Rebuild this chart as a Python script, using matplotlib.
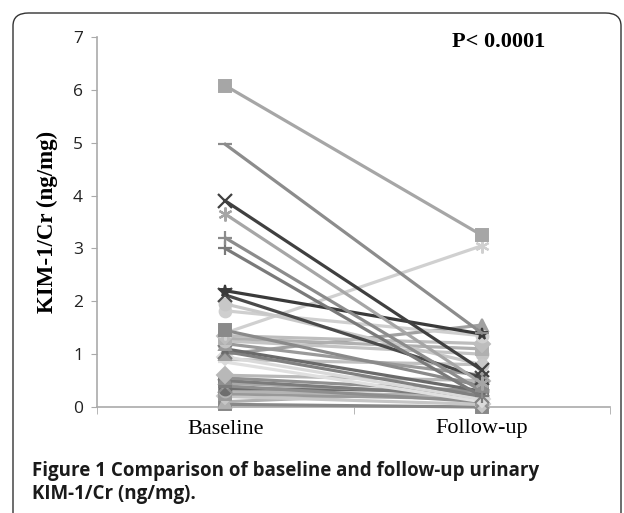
import matplotlib
matplotlib.use("Agg")
import matplotlib.pyplot as plt
from matplotlib.patches import FancyBboxPatch
from matplotlib.ticker import FixedLocator, NullFormatter

# ---------------- data ----------------
categories = ["Baseline", "Follow-up"]
baseline = [6.08, 4.97, 3.90, 3.65, 3.20, 3.00, 2.20, 2.12, 1.95, 1.82,
            1.45, 1.40, 1.35, 1.30, 1.25, 1.20, 1.10, 1.05, 1.00, 0.95,
            0.90, 0.85, 0.60, 0.55, 0.50, 0.45, 0.40, 0.35, 0.30, 0.25,
            0.20, 0.10, 0.05]
followup = [3.25, 1.40, 0.70, 0.45, 0.30, 0.20, 1.38, 0.55, 0.80, 1.35,
            0.40, 3.05, 1.20, 1.10, 1.00, 0.60, 0.30, 0.20, 1.55, 0.15,
            0.80, 0.10, 0.50, 0.30, 0.20, 0.25, 0.10, 0.30, 0.20, 0.15,
            0.05, 0.30, 0.00]
yticks = [0, 1, 2, 3, 4, 5, 6, 7]
p_text = "P< 0.0001"
ylabel = "KIM-1/Cr (ng/mg)"
caption_bold = "Figure 1"
caption_rest = " Comparison of baseline and follow-up urinary"
caption_line2 = "KIM-1/Cr (ng/mg)."

# ---------------- styles ----------------
grays = ["#a6a6a6", "#8c8c8c", "#404040", "#a6a6a6", "#8c8c8c", "#7a7a7a",
         "#3a3a3a", "#4a4a4a", "#c8c8c8", "#cfcfcf", "#8a8a8a", "#d0d0d0",
         "#bdbdbd", "#b0b0b0", "#c4c4c4", "#9a9a9a", "#6a6a6a", "#808080",
         "#a0a0a0", "#dadada", "#c0c0c0", "#e0e0e0", "#b8b8b8", "#909090",
         "#7c7c7c", "#a8a8a8", "#8e8e8e", "#6e6e6e", "#b4b4b4", "#999999",
         "#c6c6c6", "#b0b0b0", "#888888"]
asterisk = (6, 2, 0)
markers = ["s", "_", "x", asterisk, "+", "+", "*", "x", "o", "o",
           "s", asterisk, "D", "s", "o", "^", "*", "x", "^", "D",
           ".", "_", "D", "^", "s", "*", "x", "o", "o", "s",
           "D", "^", "s"]

fig = plt.figure(figsize=(6.24, 5.13), dpi=100)

# rounded frame
frame = FancyBboxPatch((13 / 624, -0.05), (621 - 13) / 624, (513 - 13) / 513 + 0.05,
                       boxstyle="round,pad=0,rounding_size=0.025",
                       transform=fig.transFigure, facecolor="none",
                       edgecolor="#333333", linewidth=1.0, zorder=0)
fig.patches.append(frame)

ax = fig.add_axes([97 / 624, (513 - 407) / 513, (610 - 97) / 624, (407 - 37) / 513])
ax.set_facecolor("none")
ax.set_zorder(2)

xs = [0.5, 1.5]
order = sorted(range(len(baseline)), key=lambda i: -baseline[i])
for i in reversed(order):
    m = markers[i % len(markers)]
    ms = 8.5
    mew = 1.4
    if m in ("x", "+", asterisk, "_"):
        ms = 10
        mew = 1.6
    ax.plot(xs, [baseline[i], followup[i]], color=grays[i % len(grays)],
            linewidth=2.3, marker=m, markersize=ms, markeredgewidth=mew,
            markeredgecolor=grays[i % len(grays)], clip_on=False, zorder=3)

ax.set_xlim(0, 2)
ax.set_ylim(0, 7)
ax.set_yticks(yticks)
ax.set_yticklabels([str(t) for t in yticks], fontfamily="Open Sans", fontsize=12.5,
                   color="#222222")
ax.set_xticks(xs)
ax.set_xticklabels(categories, fontfamily="Liberation Serif", fontsize=16)
ax.xaxis.set_minor_locator(FixedLocator([0, 1, 2]))
ax.xaxis.set_minor_formatter(NullFormatter())
ax.tick_params(axis="x", which="major", length=0, pad=9)
ax.tick_params(axis="x", which="minor", length=5, color="#aaaaaa", direction="out")
ax.tick_params(axis="y", length=4, color="#aaaaaa", pad=6)

for s in ("top", "right"):
    ax.spines[s].set_visible(False)
for s in ("left", "bottom"):
    ax.spines[s].set_color("#aaaaaa")
    ax.spines[s].set_linewidth(1.2)

ax.set_ylabel(ylabel, fontfamily="Liberation Serif", fontweight="bold", fontsize=16.5,
              labelpad=11)
ax.text(499 / 624, 1 - 42 / 513, p_text, transform=fig.transFigure,
        fontfamily="Liberation Serif", fontweight="bold", fontsize=16,
        ha="center", va="center")

# caption
fs_cap = 13.5
t1 = fig.text(32 / 624, 1 - 471 / 513, caption_bold, fontfamily="Open Sans",
              fontweight="bold", fontsize=fs_cap, va="center", ha="left", color="#1a1a1a")
fig.canvas.draw()
bb = t1.get_window_extent()
fig.text(bb.x1 / 624, 1 - 471 / 513, caption_rest, fontfamily="Open Sans",
         fontweight="bold", fontsize=fs_cap, va="center", ha="left", color="#1a1a1a")
fig.text(32 / 624, 1 - 494 / 513, caption_line2, fontfamily="Open Sans",
         fontweight="bold", fontsize=fs_cap, va="center", ha="left", color="#1a1a1a")

fig.savefig("out.png", dpi=100)
